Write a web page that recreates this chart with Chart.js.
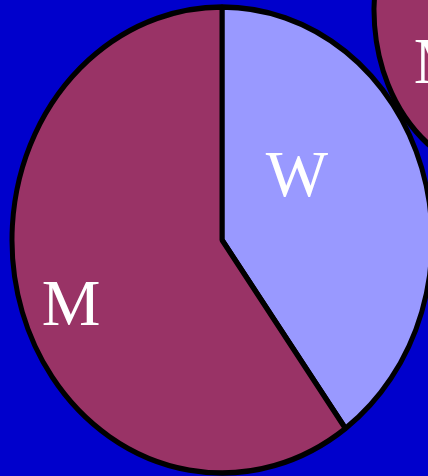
<!DOCTYPE html>
<html>
<head>
<meta charset="utf-8">
<script src="https://cdn.jsdelivr.net/npm/chart.js@4/dist/chart.umd.min.js"></script>
<style>
  html, body { margin: 0; padding: 0; }
  body { width: 428px; height: 476px; overflow: hidden; background: #0000cc; position: relative; }
  .pie { position: absolute; }
  #mainWrap { left: 0; top: 0; width: 444px; height: 480px; }
  #sideWrap { left: 354px; top: -190px; width: 300px; height: 400px; }
</style>
</head>
<body>
<div class="pie" id="mainWrap"><canvas id="mainPie"></canvas></div>
<div class="pie" id="sideWrap"><canvas id="sidePie"></canvas></div>
<script>
// main pie
const mainLabels = ['W', 'M'];
const mainValues = [40, 60];

// second pie, only its left edge shows in the corner
const sideLabels = ['W', 'M'];
const sideValues = [35, 65];

const sliceColors = ['#9999ff', '#993366'];

// stretches the pie vertically and writes the slice labels
const ellipsePlugin = {
    id: 'ellipse',
    beforeDatasetsDraw(chart, args, opts) {
        const arc = chart.getDatasetMeta(0).data[0];
        const ctx = chart.ctx;
        ctx.save();
        ctx.translate(arc.x, arc.y);
        ctx.scale(1, opts.scaleY);
        ctx.translate(-arc.x, -arc.y);
    },
    afterDatasetsDraw(chart, args, opts) {
        const ctx = chart.ctx;
        ctx.restore();
        const meta = chart.getDatasetMeta(0);
        ctx.save();
        ctx.fillStyle = '#ffffff';
        ctx.font = '66px "Liberation Serif", "Times New Roman", serif';
        ctx.textAlign = 'center';
        ctx.textBaseline = 'middle';
        meta.data.forEach((arc, i) => {
            const off = opts.labelOffsets[i];
            if (!off) return;
            const r = arc.outerRadius;
            ctx.fillText(chart.data.labels[i], arc.x + off[0] * r, arc.y + off[1] * r * opts.scaleY);
        });
        ctx.restore();
    }
};

function makePie(id, labels, values, radius, scaleY, labelOffsets) {
    return new Chart(document.getElementById(id), {
        type: 'pie',
        data: {
            labels: labels,
            datasets: [{
                data: values,
                backgroundColor: sliceColors,
                borderColor: '#000000',
                borderWidth: 5,
                radius: radius
            }]
        },
        options: {
            responsive: true,
            maintainAspectRatio: false,
            animation: false,
            events: [],
            layout: { padding: 0 },
            plugins: {
                legend: { display: false },
                tooltip: { enabled: false },
                ellipse: { scaleY: scaleY, labelOffsets: labelOffsets }
            }
        },
        plugins: [ellipsePlugin]
    });
}

makePie('mainPie', mainLabels, mainValues, 210, 233 / 210, [[0.357, -0.262], [-0.719, 0.289]]);
makePie('sidePie', sideLabels, sideValues, 130, 165 / 130, [null, [-0.469, 0.339]]);
</script>
</body>
</html>
